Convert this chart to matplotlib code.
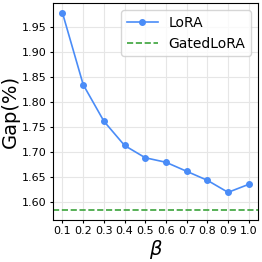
import matplotlib
matplotlib.use("Agg")
import matplotlib.pyplot as plt

beta = [0.1, 0.2, 0.3, 0.4, 0.5, 0.6, 0.7, 0.8, 0.9, 1.0]
gap_lora = [1.977, 1.834, 1.761, 1.7125, 1.688, 1.679, 1.661, 1.643, 1.619, 1.635]
gap_gated = 1.5833

fig = plt.figure(figsize=(2.62, 2.62), dpi=100)
ax = fig.add_axes([0.203, 0.16, 0.782, 0.828])
ax.plot(beta, gap_lora, color="#4a8cf7", marker="o", markersize=4, linewidth=1.2, label="LoRA")
ax.axhline(gap_gated, color="#3ba33b", linestyle="--", linewidth=1.2, label="GatedLoRA")
# keep autoscale including the dashed line
ax.plot([beta[0], beta[-1]], [gap_gated, gap_gated], alpha=0)

ax.set_xticks(beta)
ax.set_yticks([1.60, 1.65, 1.70, 1.75, 1.80, 1.85, 1.90, 1.95])
ax.tick_params(labelsize=8, length=2.5, pad=2)
ax.grid(True, color="#e6e6e6", linewidth=0.8)
ax.set_axisbelow(True)
ax.set_ylabel("Gap(%)", fontsize=14, labelpad=2)
ax.set_xlabel(r"$\beta$", fontsize=14, labelpad=1)
ax.legend(loc="upper right", fontsize=10, handlelength=2.2, borderaxespad=0.5)

fig.savefig("out.png", dpi=100)
